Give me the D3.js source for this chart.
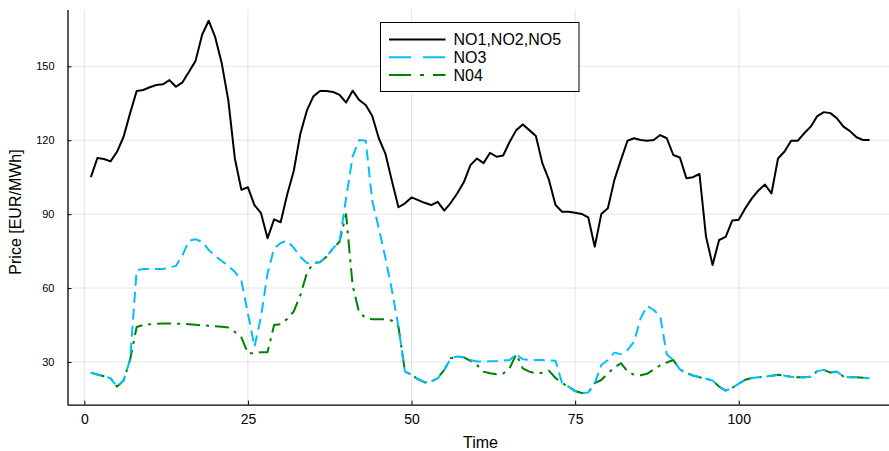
<!DOCTYPE html>
<html>
<head>
<meta charset="utf-8">
<script src="https://cdn.jsdelivr.net/npm/d3@7"></script>
<style>
  body { margin: 0; background: #fff; }
  svg { display: block; }
</style>
</head>
<body>
<svg></svg>
<script>
// data (hourly prices, hours 1..120)

const seriesNames = ['NO1,NO2,NO5', 'NO3', 'N04'];

const priceNO125 = [
  105, 112.8, 112.4, 111.4, 115.3, 121.4, 131, 140, 140.4, 141.5,
  142.4, 142.7, 144.4, 141.7, 143.5, 147.8, 152.2, 162.8, 168.5, 161.8,
  151.2, 136.3, 112.6, 99.9, 100.9, 93.7, 90.4, 80.2, 87.9, 86.7,
  98, 107.5, 122.5, 132, 137.8, 140, 140, 139.6, 138.4, 135.3,
  140.1, 136.3, 134.3, 129.8, 120.8, 114.6, 103.5, 92.8, 94.4, 96.8,
  95.7, 94.6, 93.7, 95, 91.4, 94.6, 98.5, 103, 109.9, 112.6,
  110.7, 114.9, 113.3, 113.8, 119.4, 124.1, 126.4, 124.1, 121.7, 110.6,
  103.9, 93.7, 91, 91, 90.6, 90.1, 88.7, 76.8, 90.1, 92.4,
  103.9, 112, 119.8, 120.8, 120.1, 119.8, 120.1, 122.1, 120.8, 114,
  113, 104.6, 105, 106.3, 80.8, 69.4, 79.5, 80.8, 87.4, 87.7,
  92.4, 96.4, 99.6, 102, 98.4, 112.6, 115.4, 119.8, 119.8, 122.8,
  125.5, 129.8, 131.4, 131, 128.9, 125.5, 123.7, 121.2, 120.1, 120.1
];

const priceNO3 = [
  25.7, 24.9, 24.2, 23.4, 20, 22.5, 31, 67.3, 67.7, 67.8,
  67.7, 67.7, 68.4, 69, 73.4, 79.2, 79.8, 78.8, 75.5, 73,
  71, 69, 66.6, 63, 49.7, 36.2, 48.4, 66, 76.1, 78.3,
  79.2, 76.3, 72.7, 70.2, 70.2, 70.5, 72.7, 76.1, 78.8, 96.5,
  113.4, 120.1, 119.8, 95.4, 84.3, 72.3, 59.2, 44.3, 26.1, 24.8,
  23, 21.7, 22.1, 23.4, 26.8, 31.5, 32.2, 31.9, 30.8, 30.2,
  30.2, 30.3, 30.4, 30.6, 30.8, 33.2, 31.1, 30.9, 30.8, 30.8,
  30.6, 30.5, 21.5, 20, 18.2, 17.4, 17.6, 21.4, 28.8, 30.8,
  33.8, 33.2, 34.8, 38.2, 47.7, 52.8, 51.1, 48.6, 33, 30.8,
  27, 25.5, 24.5, 23.8, 23.2, 22.5, 20, 18.4, 19.5, 21.2,
  22.8, 23.5, 23.8, 24, 24.4, 24.8, 24.4, 24, 23.8, 23.8,
  24, 26.3, 26.8, 25.7, 26.1, 24.1, 23.8, 23.8, 23.6, 23.4
];

const priceNO4 = [
  25.7, 24.9, 24.2, 23.4, 20, 22.5, 31, 44.2, 45, 45.3,
  45.5, 45.6, 45.6, 45.5, 45.5, 45.3, 45.1, 44.9, 44.7, 44.5,
  44.3, 44, 42.2, 40, 33.5, 33.5, 34, 34, 45, 45.3,
  47.5, 50.5, 57, 66, 70.2, 70.5, 72.7, 76.1, 78.8, 90,
  61, 50, 48, 47.3, 47.3, 47.3, 46.8, 44.3, 26.1, 24.8,
  23, 21.7, 22.1, 23.4, 26.8, 31.5, 32.2, 31.9, 30.5, 28.8,
  26.1, 25.4, 25, 25.3, 27.5, 33.2, 27.4, 26.1, 25.4, 25.6,
  26.5, 23.5, 21.5, 20, 18.2, 17.4, 17.6, 21.4, 22.7, 25.4,
  27.8, 29.5, 26.2, 24.8, 24.6, 25.2, 27, 28.6, 29.8, 30.8,
  27, 25.5, 24.5, 23.8, 23.2, 22.5, 20, 18.4, 19.5, 21.2,
  22.8, 23.5, 23.8, 24, 24.4, 24.8, 24.4, 24, 23.8, 23.8,
  24, 26.3, 26.8, 25.7, 26.1, 24.1, 23.8, 23.8, 23.6, 23.4
];

const xTicks = [0, 25, 50, 75, 100];
const yTicks = [30, 60, 90, 120, 150];


// root svg

const W = 889, H = 451;
const plot = { left: 67.5, right: 893, top: 9.5, bottom: 404.7 };

const svg = d3.select('svg')
  .attr('width', W)
  .attr('height', H);

const font = "'Liberation Sans', Arial, sans-serif";

const xScale = d3.scaleLinear()
  .domain([-2.57, 123.57])
  .range([plot.left, plot.right]);

const yScale = d3.scaleLinear()
  .domain([12.67, 173.05])
  .range([plot.bottom, plot.top]);


// grid

const gridG = svg.append('g');

gridG.selectAll('line.vgrid')
  .data(xTicks)
  .enter()
    .append('line')
    .attr('x1', d => xScale(d))
    .attr('x2', d => xScale(d))
    .attr('y1', plot.top)
    .attr('y2', plot.bottom)
    .style('stroke', '#000')
    .style('stroke-opacity', 0.1)
    .style('stroke-width', 1);

gridG.selectAll('line.hgrid')
  .data(yTicks)
  .enter()
    .append('line')
    .attr('x1', plot.left)
    .attr('x2', plot.right)
    .attr('y1', d => yScale(d))
    .attr('y2', d => yScale(d))
    .style('stroke', '#000')
    .style('stroke-opacity', 0.1)
    .style('stroke-width', 1);


// axes

const xAxis = d3.axisBottom(xScale)
  .tickValues(xTicks)
  .tickSizeInner(-4)
  .tickSizeOuter(0)
  .tickPadding(9);

const xAxisG = svg.append('g')
  .attr('transform', `translate(0,${plot.bottom})`)
  .call(xAxis);

xAxisG.select('.domain').style('stroke-width', 1.3);
xAxisG.selectAll('.tick text')
  .style('font-family', font)
  .style('font-size', '14px')
  .style('fill', '#000');

const yAxis = d3.axisLeft(yScale)
  .tickValues(yTicks)
  .tickSizeInner(-4)
  .tickSizeOuter(0)
  .tickPadding(13);

const yAxisG = svg.append('g')
  .attr('transform', `translate(${plot.left},0)`)
  .call(yAxis);

yAxisG.select('.domain').style('stroke-width', 1.3);
yAxisG.selectAll('.tick text')
  .style('font-family', font)
  .style('font-size', '11px')
  .style('fill', '#000');


// axis labels

svg.append('text')
  .attr('x', 480.5)
  .attr('y', 448)
  .attr('text-anchor', 'middle')
  .style('font-family', font)
  .style('font-size', '16px')
  .text('Time');

svg.append('text')
  .attr('transform', 'translate(21,212) rotate(-90)')
  .attr('text-anchor', 'middle')
  .style('font-family', font)
  .style('font-size', '16px')
  .text('Price [EUR/MWh]');


// lines

const styles = [
  { color: '#000000', dash: null, legendDash: null },
  { color: '#00bfff', dash: '11,6', legendDash: '22,12' },
  { color: '#008000', dash: '14,6,3,6', legendDash: '22,9,4,9' }
];

const series = [priceNO125, priceNO3, priceNO4];

const line = d3.line()
  .x((d, i) => xScale(i + 1))
  .y(d => yScale(d));

// draw back to front: green, cyan, black
[2, 1, 0].forEach(k => {
  svg.append('path')
    .attr('d', line(series[k]))
    .attr('fill', 'none')
    .attr('stroke', styles[k].color)
    .attr('stroke-width', 2)
    .attr('stroke-linejoin', 'round')
    .attr('stroke-dasharray', styles[k].dash);
});


// legend

const legendG = svg.append('g')
  .attr('transform', 'translate(380.5,22.5)');

legendG.append('rect')
  .attr('width', 198.5)
  .attr('height', 69)
  .style('fill', '#fff')
  .style('stroke', '#000')
  .style('stroke-width', 1);

legendG.selectAll('g.item')
  .data(seriesNames)
  .enter()
    .append('g')
    .each(function(d, i) {
      const g = d3.select(this);
      const cy = 17 + i * 17.8;

      g.append('line')
        .attr('x1', 8.5)
        .attr('x2', 65)
        .attr('y1', cy)
        .attr('y2', cy)
        .attr('stroke', styles[i].color)
        .attr('stroke-width', 2)
        .attr('stroke-dasharray', styles[i].legendDash);

      g.append('text')
        .attr('x', 73)
        .attr('y', cy)
        .attr('dy', '0.36em')
        .style('font-family', font)
        .style('font-size', '16px')
        .text(d);
    });
</script>
</body>
</html>
